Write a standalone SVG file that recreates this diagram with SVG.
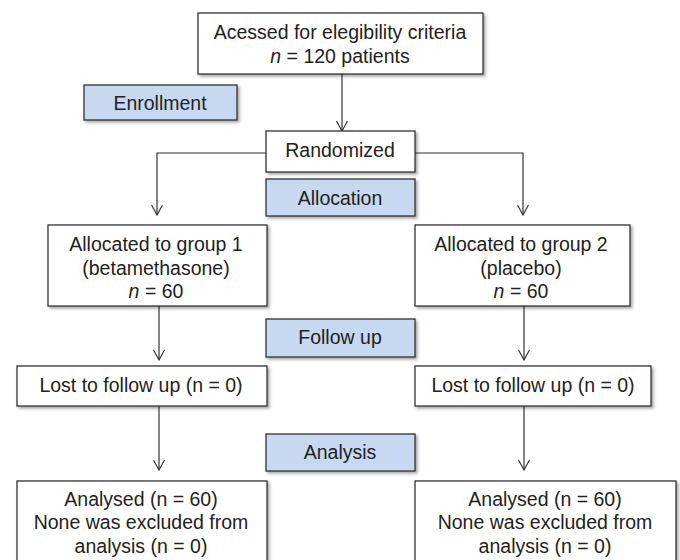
<svg xmlns="http://www.w3.org/2000/svg" width="680" height="560" viewBox="0 0 680 560">
<defs>
<filter id="sh" x="-10%" y="-20%" width="125%" height="150%">
<feDropShadow dx="2" dy="2" stdDeviation="1.4" flood-color="#000" flood-opacity="0.35"/>
</filter>
<marker id="ah" viewBox="0 0 12 12" refX="11" refY="6" markerWidth="12" markerHeight="12" markerUnits="userSpaceOnUse" orient="auto">
<path d="M1,0.5 L11,6 L1,11.5" fill="none" stroke="#333" stroke-width="1.2"/>
</marker>
</defs>
<style>
.box{fill:#fff;stroke:#333;stroke-width:1.3;filter:url(#sh)}
.lab{fill:#c6d9f1;stroke:#333;stroke-width:1.3;filter:url(#sh)}
text{font-family:"Liberation Sans",Arial,sans-serif;font-size:19.5px;fill:#222;text-anchor:middle}
.con{fill:none;stroke:#333;stroke-width:1.2;marker-end:url(#ah)}
</style>
<rect width="680" height="560" fill="#fff"/>
<g id="connectors">
<path class="con" d="M342,74 V131"/>
<path class="con" d="M266,153 H157 V215"/>
<path class="con" d="M415,153 H523 V215"/>
<path class="con" d="M159,306 V360"/>
<path class="con" d="M524,306 V360"/>
<path class="con" d="M159,406 V470"/>
<path class="con" d="M524,406 V470"/>
</g>
<g id="assessed">
<rect class="box" x="198" y="13" width="285" height="61"/>
<text x="340" y="39">Acessed for elegibility criteria</text>
<text x="340" y="63"><tspan font-style="italic">n</tspan> = 120 patients</text>
</g>
<g id="enrollment">
<rect class="lab" x="84" y="85" width="153" height="35"/>
<text x="160" y="110">Enrollment</text>
</g>
<g id="randomized">
<rect class="box" x="266" y="131" width="149" height="41"/>
<text x="340" y="157">Randomized</text>
</g>
<g id="allocation">
<rect class="lab" x="266" y="179" width="149" height="37"/>
<text x="340" y="205">Allocation</text>
</g>
<g id="group1">
<rect class="box" x="48" y="225" width="219" height="81"/>
<text x="156" y="251">Allocated to group 1</text>
<text x="156" y="275">(betamethasone)</text>
<text x="156" y="298"><tspan font-style="italic">n</tspan> = 60</text>
</g>
<g id="group2">
<rect class="box" x="415" y="225" width="215" height="81"/>
<text x="521" y="251">Allocated to group 2</text>
<text x="521" y="275">(placebo)</text>
<text x="521" y="298"><tspan font-style="italic">n</tspan> = 60</text>
</g>
<g id="followup">
<rect class="lab" x="266" y="319" width="149" height="38"/>
<text x="340" y="344">Follow up</text>
</g>
<g id="lost1">
<rect class="box" x="17" y="366" width="250" height="40"/>
<text x="141" y="392">Lost to follow up (n = 0)</text>
</g>
<g id="lost2">
<rect class="box" x="415" y="366" width="236" height="40"/>
<text x="533" y="392">Lost to follow up (n = 0)</text>
</g>
<g id="analysis">
<rect class="lab" x="266" y="434" width="149" height="37"/>
<text x="340" y="459">Analysis</text>
</g>
<g id="analysed1">
<rect class="box" x="17" y="481" width="250" height="90"/>
<text x="141" y="506">Analysed (n = 60)</text>
<text x="141" y="529">None was excluded from</text>
<text x="141" y="553">analysis (n = 0)</text>
</g>
<g id="analysed2">
<rect class="box" x="415" y="481" width="261" height="90"/>
<text x="545" y="506">Analysed (n = 60)</text>
<text x="545" y="529">None was excluded from</text>
<text x="545" y="553">analysis (n = 0)</text>
</g>
</svg>
